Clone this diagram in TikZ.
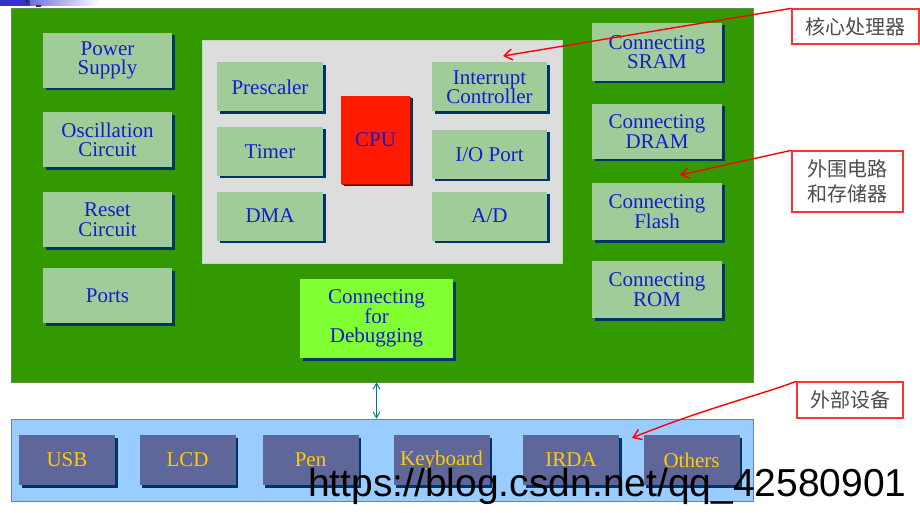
\documentclass[tikz,border=0pt]{standalone}
\usepackage{fontspec}
\setmainfont{Liberation Serif}
\newfontfamily\wmfont{Liberation Sans}
\newfontfamily\cjk{Noto Sans CJK SC}
\usetikzlibrary{arrows.meta,shadows}
\definecolor{boardgreen}{HTML}{339900}
\definecolor{boxgreen}{HTML}{A0CC99}
\definecolor{coregray}{HTML}{DDDDDD}
\definecolor{cpured}{HTML}{FF1A00}
\definecolor{dbggreen}{HTML}{80FF33}
\definecolor{devblue}{HTML}{99CCFF}
\definecolor{devpurple}{HTML}{5F6699}
\definecolor{navyshadow}{HTML}{003366}
\definecolor{labelblue}{HTML}{1A1ACC}
\definecolor{labelyellow}{HTML}{FFCC00}
\definecolor{notegray}{HTML}{4D4D4D}
\definecolor{stripblue}{HTML}{3333CC}

\begin{document}
\begin{tikzpicture}[x=1pt,y=-1pt,
    blk/.style={rectangle,inner sep=0pt,outer sep=0pt,align=center,
        text=labelblue,font=\fontsize{21}{19.5}\selectfont,
        general shadow={fill=navyshadow,shadow xshift=2.5pt,shadow yshift=-2.5pt}},
    modbox/.style={blk,fill=boxgreen,minimum width=129pt,minimum height=55pt},
    corebox/.style={blk,fill=boxgreen,minimum height=49pt},
    devbox/.style={blk,fill=devpurple,text=labelyellow,minimum width=96pt,minimum height=50pt},
    note/.style={rectangle,draw=red!80!white,line width=1.3pt,fill=white,inner sep=0pt,
        text=notegray,font=\cjk\fontsize{20}{25}\selectfont,align=center},
    pointer/.style={draw=red,line width=1.4pt,-{Straight Barb[length=8pt,width=11pt]}}]
        \useasboundingbox (0,0) rectangle (920,513);
        \shade[left color=stripblue,right color=white] (0,0) rectangle (100,6);
        \fill[stripblue] (0,0) rectangle (30,6);
        \fill[black!80] (26,0) rectangle (28,4) (36,5) rectangle (41,7);
        % main board
        \node[rectangle,fill=boardgreen,draw=gray!60!boardgreen,line width=.8pt,
            minimum width=742pt,minimum height=374pt,inner sep=0pt] (board) at (382,195) {};
        \node[modbox] (power) at (107.5,60.5) {Power\\Supply};
        \node[modbox] (osc) at (107.5,140) {Oscillation\\Circuit};
        \node[modbox] (reset) at (107.5,219.5) {Reset\\Circuit};
        \node[modbox] (ports) at (107.5,295.5) {Ports};
        % core
        \node[rectangle,fill=coregray,draw=boxgreen!70!white,line width=.6pt,
            minimum width=360pt,minimum height=223pt,inner sep=0pt] (core) at (382,151.5) {};
        \node[corebox,minimum width=106pt] (presc) at (270,87) {Prescaler};
        \node[corebox,minimum width=106pt] (timer) at (270,151.5) {Timer};
        \node[corebox,minimum width=106pt] (dma) at (270,216) {DMA};
        \node[blk,fill=cpured,minimum width=69pt,minimum height=88pt,
            general shadow={fill=cpured!60!black,shadow xshift=1.2pt,shadow yshift=-1.2pt}] (cpu) at (375.5,140) {CPU};
        \node[corebox,minimum width=115pt] (irq) at (489.5,87) {Interrupt\\Controller};
        \node[corebox,minimum width=115pt] (io) at (489.5,154.5) {I/O Port};
        \node[corebox,minimum width=115pt] (ad) at (489.5,216) {A/D};
        \node[blk,fill=dbggreen,minimum width=153pt,minimum height=79pt] (dbg) at (376.5,318.5) {Connecting\\for\\Debugging};
        % memories
        \node[modbox,minimum width=130pt,minimum height=58pt] (sram) at (657,52) {Connecting\\SRAM};
        \node[modbox,minimum width=130pt] (dram) at (657,131.5) {Connecting\\DRAM};
        \node[modbox,minimum width=130pt,minimum height=57pt] (flash) at (657,211.5) {Connecting\\Flash};
        \node[modbox,minimum width=130pt,minimum height=57pt] (rom) at (657,289.5) {Connecting\\ROM};
        % devices
        \node[rectangle,fill=devblue,draw=devblue!60!blue!70!gray,line width=.8pt,
            minimum width=742pt,minimum height=82pt,inner sep=0pt] (devs) at (382,460) {};
        \node[devbox] (usb) at (67,460) {USB};
        \node[devbox] (lcd) at (187.5,460) {LCD};
        \node[devbox] (pen) at (310.5,460) {Pen};
        \node[devbox] (kbd) at (441.5,460) {Keyboard};
        \node[devbox] (irda) at (571,460) {IRDA};
        \node[devbox] (others) at (691.5,460) {Others};
        \draw[draw=navyshadow!70!cyan,line width=.9pt,{Straight Barb[length=6pt,width=7pt]}-{Straight Barb[length=6pt,width=7pt]}]
            (dbg.south |- board.south) -- (dbg.south |- devs.north);
        % notes
        \node[note,minimum width=127pt,minimum height=35pt] (notecore) at (855.5,26.5) {核心处理器};
        \node[note,minimum width=111pt,minimum height=61pt] (noteperi) at (847.5,181.5) {外围电路\\和存储器};
        \node[note,minimum width=106pt,minimum height=36pt] (notedev) at (850,400) {外部设备};
        \coordinate (tipcore) at (503,56);
        \coordinate (tipperi) at (680,175);
        \coordinate (tipdev) at (632,438);
        \draw[pointer] (notecore.north west) -- (tipcore);
        \draw[pointer] (noteperi.north west) -- (tipperi);
        \draw[pointer] (notedev.north west) .. controls (760,395) and (700,410) .. (tipdev);
        \node[anchor=base west,inner sep=0pt,font=\wmfont\fontsize{39}{39}\selectfont] (wm) at (308,496) {https://blog.csdn.net/qq\_42580901};
\end{tikzpicture}
\end{document}
